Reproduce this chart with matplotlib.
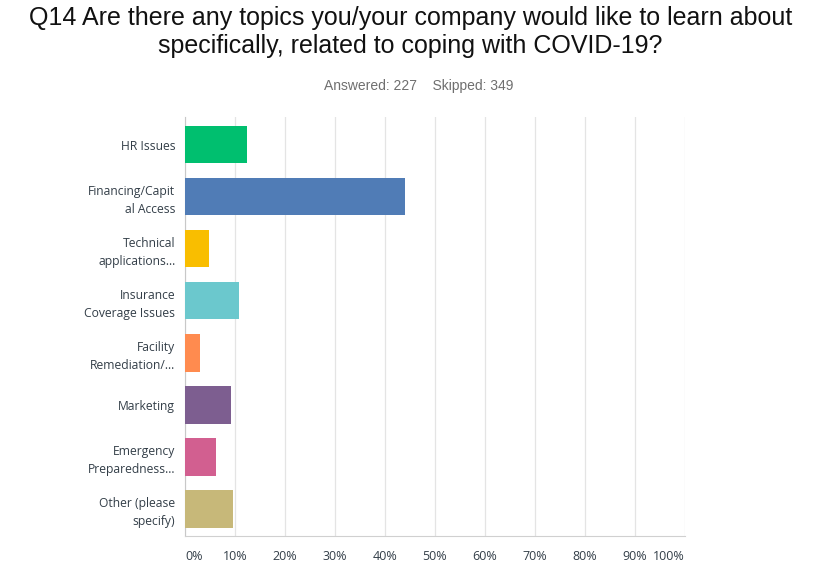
import matplotlib
matplotlib.use('Agg')
from matplotlib import pyplot as plt

# answer choices (as shown, already truncated by the survey tool)
labels = ['HR Issues', 'Financing/Capit\nal Access', 'Technical\napplications...',
          'Insurance\nCoverage Issues', 'Facility\nRemediation/...', 'Marketing',
          'Emergency\nPreparedness...', 'Other (please\nspecify)']
pct = [12.33, 44.05, 4.85, 10.79, 3.08, 9.25, 6.17, 9.69]
colors = ['#00BF6F', '#507CB6', '#F9BE00', '#6BC8CD', '#FF8B4F', '#7D5E90', '#D25F90', '#C7B879']
xticks = [0, 10, 20, 30, 40, 50, 60, 70, 80, 90, 100]

fig = plt.figure(figsize=(8.37, 5.78), dpi=100)
ax = fig.add_axes([0.221, 0.0727, 0.5974, 0.7249])

ypos = list(range(len(labels)))
ax.barh(ypos, pct, height=0.72, color=colors, zorder=3)

ax.set_xlim(0, 100)
ax.set_ylim(7.52, -0.53)
ax.set_yticks(ypos)
ax.set_yticklabels(labels, fontsize=8.7, color='#333e48', family='Open Sans', linespacing=1.45)
ax.set_xticks(xticks)
ax.set_xticklabels([str(t) + '%' for t in xticks], fontsize=9, color='#333e48', family='Open Sans')
xl = ax.get_xticklabels()
xl[0].set_ha('left')
xl[-1].set_ha('right')
ax.tick_params(axis='both', length=0)
ax.tick_params(axis='y', pad=7)
ax.tick_params(axis='x', pad=10)

ax.grid(axis='x', color='#e4e4e4', linewidth=0.9, zorder=0)
for s in ['top', 'right']:
    ax.spines[s].set_visible(False)
ax.spines['left'].set_color('#c8c8c8')
ax.spines['bottom'].set_color('#d0d0d0')

fig.text(0.49, 0.99, 'Q14 Are there any topics you/your company would like to learn about\n'
         'specifically, related to coping with COVID-19?',
         ha='center', va='top', fontsize=18, family='Liberation Sans', color='#111111',
         linespacing=1.22)
fig.text(0.5, 0.851, 'Answered: 227    Skipped: 349', ha='center', va='center',
         fontsize=10, family='Liberation Sans', color='#6f6f6f')

fig.savefig('out.png', dpi=100)
